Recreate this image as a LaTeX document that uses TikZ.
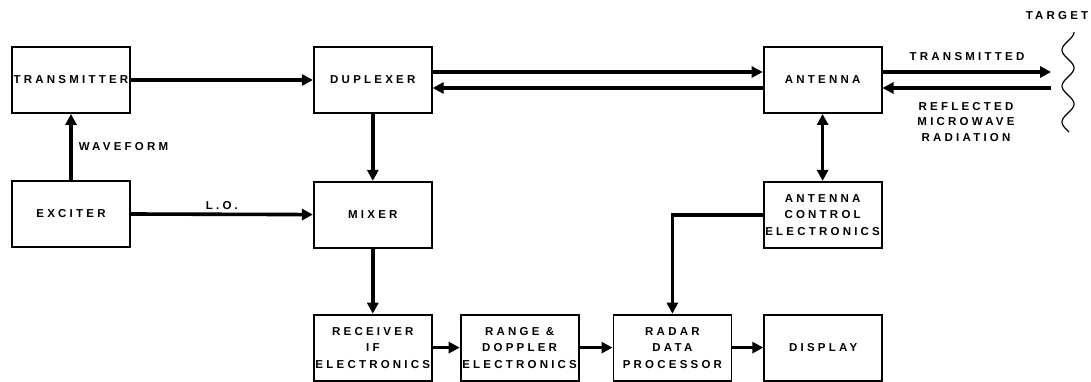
\documentclass[tikz,border=0pt]{standalone}
\usepackage{fontspec}
\newfontfamily\radarfont[LetterSpace=28]{Liberation Sans}
\usetikzlibrary{arrows.meta,positioning}

\begin{document}
\begin{tikzpicture}[x=1pt, y=-1pt,
      blk/.style={draw, line width=1.8pt,
                  minimum width=118pt, minimum height=66pt, inner sep=0pt,
                  font=\radarfont\bfseries\fontsize{11.5}{16.5}\selectfont, align=center},
      lbl/.style={inner sep=0pt, align=center,
                  font=\radarfont\bfseries\fontsize{11.5}{15.5}\selectfont},
      arr/.style={-{Triangle[length=11pt,width=11pt]}, line width=3.6pt},
      darr/.style={{Triangle[length=11pt,width=11pt]}-{Triangle[length=11pt,width=11pt]}, line width=3.6pt}
  ]
    \useasboundingbox (0,0) rectangle (1091,382);
    % top row
    \node[blk] (tx) at (71,80) {TRANSMITTER};
    \node[blk, right=182pt of tx]  (dup) {DUPLEXER};
    \node[blk, right=330pt of dup] (ant) {ANTENNA};
    % middle row
    \node[blk, below=66pt of tx]  (exc) {EXCITER};
    \node[blk, below=67pt of dup] (mix) {MIXER};
    \node[blk, below=67pt of ant] (ace) {ANTENNA\\ CONTROL\\ ELECTRONICS};
    % bottom row
    \node[blk, below=65pt of mix] (rcv) {RECEIVER\\ IF\\ ELECTRONICS};
    \node[blk, right=27pt of rcv]  (rng) {RANGE \&\\ DOPPLER\\ ELECTRONICS};
    \node[blk, right=33pt of rng]  (rdp) {RADAR\\ DATA\\ PROCESSOR};
    \node[blk, right=31pt of rdp]  (dsp) {DISPLAY};
    % target side
    \coordinate (tgtT) at (1051,72);
    \coordinate (tgtR) at (1051,88);
    \node[lbl] (ttl) at (1057,16) {TARGET};
    \node[lbl] (trn) at (967,57) {TRANSMITTED};
    \node[lbl] (rfl) at (966,122) {REFLECTED\\ MICROWAVE\\ RADIATION};
    \draw[line width=1.2pt] plot[smooth, domain=32:132, samples=60]
         ({1068+6*cos((\x-32)*10)}, \x);
    % connectors
    \draw[arr] (tx) -- (dup);
    \draw[arr] (exc) -- node[lbl, right=6pt] {WAVEFORM} (tx);
    \draw[arr] (exc) -- node[lbl, above=3pt] {L.O.} (mix);
    \draw[arr] (dup) -- (mix);
    \draw[arr] (mix) -- (rcv);
    \draw[arr] ([yshift=8pt]dup.east) -- ([yshift=8pt]ant.west);
    \draw[arr] ([yshift=-8pt]ant.west) -- ([yshift=-8pt]dup.east);
    \draw[arr] ([yshift=8pt]ant.east) -- (tgtT);
    \draw[arr] (tgtR) -- ([yshift=-8pt]ant.east);
    \draw[darr] (ant) -- (ace);
    \draw[arr] (ace.west) -| (rdp.north);
    \draw[arr] (rcv) -- (rng);
    \draw[arr] (rng) -- (rdp);
    \draw[arr] (rdp) -- (dsp);
  \end{tikzpicture}
\end{document}
